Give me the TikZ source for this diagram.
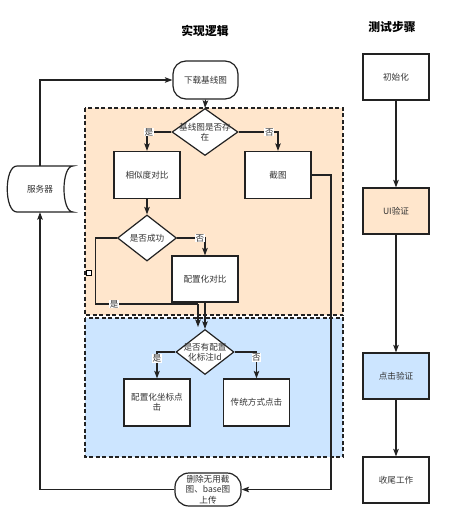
\documentclass[tikz,border=0pt]{standalone}
\usepackage{fontspec}
\setmainfont{Noto Sans CJK SC}
\usetikzlibrary{arrows.meta,shapes.geometric}
\definecolor{orgfill}{HTML}{FFE6CC}
\definecolor{bluefill}{HTML}{CCE5FF}
\definecolor{ln}{HTML}{222222}
\definecolor{tx}{HTML}{333333}
\begin{document}
\begin{tikzpicture}[x=1pt,y=-1pt,
  every node/.style={font=\fontsize{8.6}{10.4}\selectfont, text=tx},
  box/.style={draw=ln, line width=1.2pt, fill=white, minimum width=66pt, minimum height=47pt, inner sep=0pt, align=center},
  term/.style={draw=ln, line width=1.2pt, fill=white, rounded corners=13pt, inner sep=0pt, align=center},
  dia/.style={draw=ln, line width=1.2pt, fill=white, diamond, inner sep=0pt},
  dtext/.style={align=center, inner sep=0pt},
  region/.style={draw=ln, line width=1.1pt, dash pattern=on 4pt off 2.5pt},
  conn/.style={draw=ln, line width=1.1pt},
  arr/.style={conn, -{Stealth[length=7.5pt,width=5.5pt,inset=1.5pt]}},
  lab/.style={fill=white, inner sep=0.6pt},
  title/.style={font=\fontsize{11.8}{13}\selectfont\bfseries, text=black}
]
\useasboundingbox (0,0) rectangle (456,512);
\fill[white] (0,0) rectangle (456,512);

% regions
\path[region, fill=orgfill] (85,108) rectangle (343,315);
\path[region, fill=bluefill] (85,318) rectangle (343,457);

% titles
\node[title] (t1) at (205,31) {实现逻辑};
\node[title] (t2) at (392,27) {测试步骤};

% left column
\node[term, minimum width=65pt, minimum height=38pt] (dl) at (205.5,80) {下载基线图};
\node[dia, minimum width=66pt, minimum height=47pt] (d1) at (205,132) {};
\node[dtext] (d1t) at (d1) {基线图是否存\\在};
\node[box] (sim) at (147,175) {相似度对比};
\node[box] (crop) at (278,175) {截图};
\node[dia, minimum width=59pt, minimum height=46pt] (d2) at (147,238) {};
\node[dtext] (d2t) at (d2) {是否成功};
\node[box, minimum height=46pt] (cfg) at (205,279) {配置化对比};
\node[dia, minimum width=58pt, minimum height=45pt] (d3) at (205,352) {};
\node[dtext] (d3t) at (d3) {是否有配置\\化标注Id};
\node[box] (cc) at (157,402.5) {配置化坐标点\\击};
\node[box] (tc) at (256.5,402.5) {传统方式点击};
\node[term, minimum width=66pt, minimum height=33pt, rounded corners=14pt] (del) at (208,489.5) {删除无用截\\图、base图\\上传};

% server (stored data shape)
\draw[ln, line width=1.2pt, fill=white] (17,166) -- (73,166) .. controls (61,166) and (61,212) .. (73,212) -- (17,212) .. controls (4,212) and (4,166) .. (17,166);
\node[minimum width=66pt, minimum height=46pt, inner sep=0pt] (serv) at (40,189) {服务器};

% small handle
\node[draw=black, fill=white, line width=0.8pt, minimum size=4.5pt, inner sep=0pt] (handle) at (89,273) {};

% right column
\node[box, minimum height=46pt] (init) at (396,77) {初始化};
\node[box, minimum height=46pt, fill=orgfill] (ui) at (396,211) {UI验证};
\node[box, minimum height=46pt, fill=bluefill] (click) at (396,376) {点击验证};
\node[box, minimum height=46pt] (fin) at (396,480) {收尾工作};

% coordinates
\coordinate (yesbend) at (198,304);
\coordinate (yesin) at (198,327);
\coordinate (cropbend) at (331,175);

% connectors
\draw[arr] (serv.north) |- (dl.west);
\draw[arr] (dl.south) -- (d1.north);
\draw[arr] (d1.west) -| node[lab, pos=0.46] (l1) {是} (sim.north);
\draw[arr] (d1.east) -| node[lab, pos=0.39] (l2) {否} (crop.north);
\draw[arr] (sim.south) -- (d2.north);
\draw[arr] (d2.east) -| node[lab, pos=0.41] (l3) {否} (cfg.north);
\draw[conn] (d2.west) -- ++(-21,0) |- node[lab, pos=0.59] (l4) {是} (yesbend);
\draw[arr] (yesbend) -- (yesin);
\draw[arr] (cfg.south) -- (d3.north);
\draw[arr] (d3.west) -| node[lab, pos=0.62] (l5) {是} (cc.north);
\draw[arr] (d3.east) -| node[lab, pos=0.6] (l6) {否} (tc.north);
\draw[arr] (crop.east) -- (cropbend) |- (del.east);
\draw[arr] (del.west) -| (serv.south);

\draw[arr] (init.south) -- (ui.north);
\draw[arr] (ui.south) -- (click.north);
\draw[arr] (click.south) -- (fin.north);
\end{tikzpicture}
\end{document}
